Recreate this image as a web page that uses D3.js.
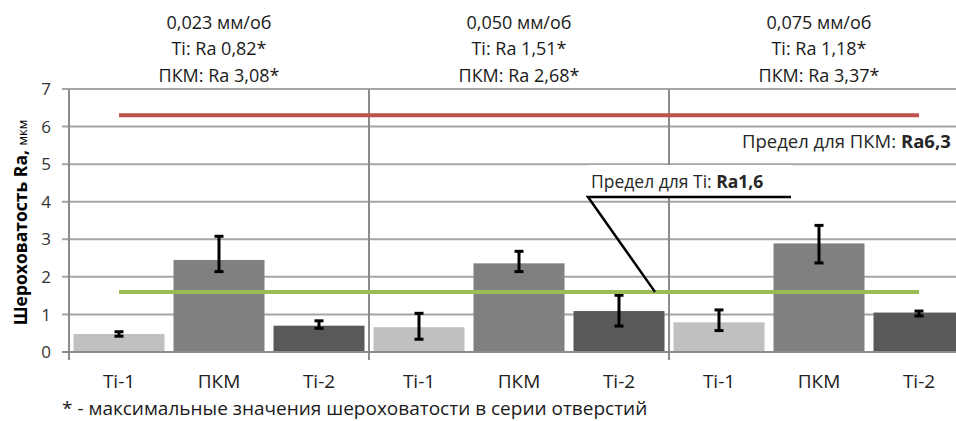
<!DOCTYPE html>
<html>
<head>
<meta charset="utf-8">
<script src="https://cdn.jsdelivr.net/npm/d3@7"></script>
<style>
  body { margin: 0; background: #fff; overflow: hidden; }
  svg { font-family: "Open Sans", "Noto Sans", sans-serif; }
</style>
</head>
<body>
<div id="chart"></div>
<script>
// data
const feeds = ["0,023 мм/об", "0,050 мм/об", "0,075 мм/об"];
const tiMaxLabels = ["0,82", "1,51", "1,18"];
const pkmMaxLabels = ["3,08", "2,68", "3,37"];
const categories = ["Ti-1", "ПКМ", "Ti-2"];
const catColors = ["#c0c0c0", "#808080", "#595959"];

// values per category, one entry per feed group
const ti1Values = [0.48, 0.66, 0.79];
const pkmValues = [2.45, 2.36, 2.89];
const ti2Values = [0.70, 1.09, 1.05];

const ti1High = [0.54, 1.03, 1.12];
const pkmHigh = [3.08, 2.68, 3.37];
const ti2High = [0.83, 1.51, 1.09];

const ti1Low = [0.42, 0.34, 0.57];
const pkmLow = [2.14, 2.14, 2.37];
const ti2Low = [0.63, 0.69, 0.96];

const yTicks = [0, 1, 2, 3, 4, 5, 6, 7];
const pkmLimit = 6.3;
const tiLimit = 1.6;

const width = 956, height = 421;
const margin = {top: 89, left: 69, bottom: 69};
const plotRight = 969; // plot goes a bit past the window edge

const svg = d3.select("#chart").append("svg")
  .attr("width", width)
  .attr("height", height);

const x0 = d3.scaleBand().domain(feeds).range([margin.left, plotRight]);
const x1 = d3.scaleBand().domain(categories).range([0, x0.bandwidth()])
  .paddingInner(0.09).paddingOuter(0.045);
const y = d3.scaleLinear().domain([0, 7]).range([height - margin.bottom, margin.top]);

const valuesByCat = [ti1Values, pkmValues, ti2Values];
const highByCat = [ti1High, pkmHigh, ti2High];
const lowByCat = [ti1Low, pkmLow, ti2Low];

let rows = [];
feeds.forEach((f, gi) => {
  categories.forEach((c, ci) => {
    rows.push({feed: f, cat: c, ci: ci, value: valuesByCat[ci][gi], hi: highByCat[ci][gi], lo: lowByCat[ci][gi]});
  });
});

function cx(d) { return x0(d.feed) + x1(d.cat) + x1.bandwidth() / 2; }

// horizontal grid
svg.append("g")
  .selectAll("line")
  .data(yTicks)
  .join("line")
  .attr("x1", margin.left - 7)
  .attr("x2", plotRight)
  .attr("y1", d => y(d))
  .attr("y2", d => y(d))
  .attr("stroke", d => d === 0 ? "#8c8c8c" : "#a6a6a6")
  .attr("stroke-width", 2);

// group separators
svg.append("g")
  .selectAll("line")
  .data(feeds)
  .join("line")
  .attr("x1", d => x0(d))
  .attr("x2", d => x0(d))
  .attr("y1", y(7))
  .attr("y2", y(0) + 8)
  .attr("stroke", "#8c8c8c")
  .attr("stroke-width", 2);

// y tick labels
svg.append("g")
  .selectAll("text")
  .data(yTicks)
  .join("text")
  .attr("x", 51)
  .attr("y", d => y(d))
  .attr("dy", "0.36em")
  .attr("text-anchor", "end")
  .attr("font-size", 17)
  .attr("fill", "#333")
  .text(d => d);

// bars
svg.append("g")
  .selectAll("rect")
  .data(rows)
  .join("rect")
  .attr("x", d => x0(d.feed) + x1(d.cat))
  .attr("width", x1.bandwidth())
  .attr("y", d => y(d.value))
  .attr("height", d => y(0) - y(d.value) - 1)
  .attr("fill", d => catColors[d.ci]);

// error bars
const err = svg.append("g").attr("stroke", "#000").attr("stroke-width", 3);
err.selectAll(".stem").data(rows).join("line")
  .attr("class", "stem")
  .attr("x1", cx).attr("x2", cx)
  .attr("y1", d => y(d.hi)).attr("y2", d => y(d.lo));
err.selectAll(".capTop").data(rows).join("line")
  .attr("class", "capTop")
  .attr("x1", d => cx(d) - 4.5).attr("x2", d => cx(d) + 4.5)
  .attr("y1", d => y(d.hi)).attr("y2", d => y(d.hi));
err.selectAll(".capBot").data(rows).join("line")
  .attr("class", "capBot")
  .attr("x1", d => cx(d) - 4.5).attr("x2", d => cx(d) + 4.5)
  .attr("y1", d => y(d.lo)).attr("y2", d => y(d.lo));

// limit lines from first to last category center
const firstC = x0(feeds[0]) + x1(categories[0]) + x1.bandwidth() / 2;
const lastC = x0(feeds[2]) + x1(categories[2]) + x1.bandwidth() / 2;
svg.append("line")
  .attr("x1", firstC).attr("x2", lastC)
  .attr("y1", y(pkmLimit)).attr("y2", y(pkmLimit))
  .attr("stroke", "#c0504d").attr("stroke-width", 4);
svg.append("line")
  .attr("x1", firstC).attr("x2", lastC)
  .attr("y1", y(tiLimit)).attr("y2", y(tiLimit))
  .attr("stroke", "#9bbb59").attr("stroke-width", 4);

// x labels
svg.append("g")
  .selectAll("text")
  .data(rows)
  .join("text")
  .attr("x", cx)
  .attr("y", 388)
  .attr("text-anchor", "middle")
  .attr("font-size", 19)
  .attr("fill", "#222")
  .text(d => d.cat);

// group headers
const head = svg.append("g").attr("text-anchor", "middle").attr("font-size", 18).attr("fill", "#1a1a1a");
feeds.forEach((f, i) => {
  const mx = x0(f) + x0.bandwidth() / 2;
  head.append("text").attr("x", mx).attr("y", 29).text(f);
  head.append("text").attr("x", mx).attr("y", 55).text("Ti: Ra " + tiMaxLabels[i] + "*");
  head.append("text").attr("x", mx).attr("y", 82).text("ПКМ:  Ra " + pkmMaxLabels[i] + "*");
});

// label for the PKM limit
svg.append("rect").attr("x", 732).attr("y", 128).attr("width", 240).attr("height", 33).attr("fill", "#fff");
const pkmLab = svg.append("text").attr("x", 742).attr("y", 148).attr("font-size", 18.5).attr("fill", "#262626");
pkmLab.append("tspan").text("Предел для ПКМ:  ");
pkmLab.append("tspan").attr("font-weight", "bold").text("Ra" + "6,3");

// label for the Ti limit with leader line
svg.append("rect").attr("x", 588).attr("y", 165).attr("width", 205).attr("height", 31).attr("fill", "#fff");
const tiLab = svg.append("text").attr("x", 591).attr("y", 188).attr("font-size", 17.5).attr("fill", "#262626");
tiLab.append("tspan").text("Предел для Ti: ");
tiLab.append("tspan").attr("font-weight", "bold").text("Ra" + "1,6");
svg.append("path")
  .attr("d", `M791,197 L588,197 L655,${y(tiLimit)}`)
  .attr("fill", "none")
  .attr("stroke", "#000")
  .attr("stroke-width", 2.5);

// y axis title
const yt = svg.append("text")
  .attr("transform", `translate(27,${(y(0) + y(7)) / 2 + 2}) rotate(-90)`)
  .attr("text-anchor", "middle")
  .attr("fill", "#000");
yt.append("tspan").attr("font-weight", "bold").attr("font-size", 17.5).text("Шероховатость  Ra, ");
yt.append("tspan").attr("font-size", 13).text("мкм");

// footnote
svg.append("text")
  .attr("x", 62).attr("y", 415)
  .attr("font-size", 19)
  .attr("fill", "#1a1a1a")
  .text("* - максимальные значения шероховатости в серии отверстий");
</script>
</body>
</html>
